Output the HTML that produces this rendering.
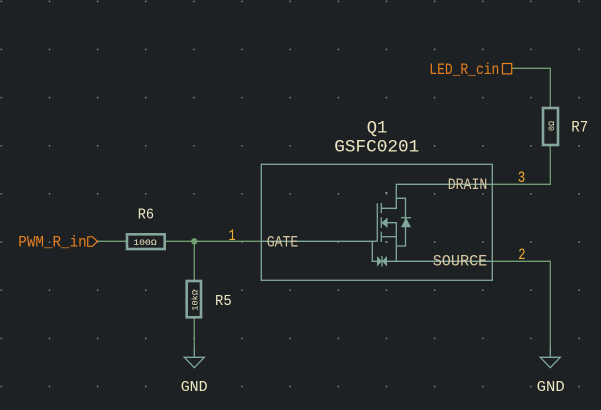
<!DOCTYPE html>
<html><head><meta charset="utf-8"><style>
html,body{margin:0;padding:0;background:#1e2124;}
svg{display:block;}
text{font-family:"Liberation Mono","DejaVu Sans Mono",monospace;}
</style></head><body>
<svg width="601" height="410" viewBox="0 0 601 410" xmlns="http://www.w3.org/2000/svg">
<defs>
<pattern id="g" patternUnits="userSpaceOnUse" x="0.6" y="0.6" width="48.15" height="48.15">
<rect x="0" y="0" width="1.4" height="1.4" fill="#8a8f93"/>
</pattern>
</defs>
<rect width="601" height="410" fill="#1e2124"/>
<rect width="601" height="410" fill="url(#g)"/>

<!-- wires -->
<g stroke="#6f9d6f" stroke-width="1.3" fill="none">
<polyline points="97.5,241.3 126,241.3"/>
<polyline points="165.7,241.3 261.3,241.3"/>
<polyline points="194.3,241.3 194.3,280"/>
<polyline points="194.3,318.3 194.3,346"/>
<polyline points="511.7,68.3 550.3,68.3 550.3,107"/>
<polyline points="550.3,146 550.3,184.3 492.3,184.3"/>
<polyline points="492.3,261.3 550.3,261.3 550.3,346"/>
</g>
<circle cx="194.3" cy="241.3" r="3.2" fill="#6f9d6f"/>

<!-- symbol lines -->
<g stroke="#7fa89a" stroke-width="1.3" fill="none">
<rect x="261.3" y="164.3" width="231" height="116"/>
<polyline points="261.3,241.3 377.3,241.3"/>
<polyline points="377.3,241.3 377.3,203.3"/>
<line x1="381.3" y1="203" x2="381.3" y2="213.3"/>
<line x1="381.3" y1="217.3" x2="381.3" y2="227.8"/>
<line x1="381.3" y1="231.7" x2="381.3" y2="242"/>
<polyline points="492.3,184.3 396.3,184.3 396.3,208.3 381.3,208.3"/>
<polyline points="396.3,198.3 405.5,198.3 405.5,246 396.3,246"/>
<polyline points="387.5,222.7 396.3,222.7 396.3,261.3"/>
<polyline points="381.3,236.7 396.3,236.7"/>
<polyline points="372.3,241.3 372.3,261.3 492.3,261.3"/>
<line x1="382" y1="256" x2="382" y2="266.5"/>
<line x1="401" y1="217.7" x2="411" y2="217.7"/>
<!-- GND symbols -->
<line x1="194.3" y1="346" x2="194.3" y2="357.3"/>
<polygon points="184.3,357.3 204.3,357.3 194.3,367.7"/>
<line x1="550.3" y1="346" x2="550.3" y2="357.3"/>
<polygon points="540.3,357.3 560.3,357.3 550.3,367.7"/>
</g>
<g fill="#7fa89a">
<polygon points="381.5,222.7 387.5,217.5 387.5,228"/>
<polygon points="401,227.3 411,227.3 406,217.7"/>
<polygon points="377,256 377,266.5 382,261.3"/>
<polygon points="387,256 387,266.5 382,261.3"/>
</g>
<g stroke="#b8ae90" stroke-width="1">
<line x1="385.3" y1="192.7" x2="387.5" y2="192.7"/>
<line x1="385.3" y1="241.8" x2="387.5" y2="241.8"/>
</g>

<!-- resistors -->
<g fill="none">
<rect x="127" y="234.3" width="37.7" height="14.7" stroke="#86a59b" stroke-width="2.6"/>
<rect x="186.7" y="281" width="14.3" height="36.3" stroke="#86a59b" stroke-width="2.6"/>
<rect x="543" y="108" width="15" height="37" stroke="#86a59b" stroke-width="2.6"/>
</g>

<!-- labels -->
<g stroke="#e8801e" stroke-width="1.2" fill="none">
<rect x="502.5" y="63.5" width="9.2" height="10.4"/>
<polygon points="87.7,236.8 92.5,236.8 97.3,241.3 92.5,246.3 87.7,246.3"/>
</g>
<g fill="#e8801e" font-size="15.5">
<text x="429.3" y="74" textLength="70" lengthAdjust="spacingAndGlyphs">LED_R_cin</text>
<text x="18.3" y="246.7" textLength="68.4" lengthAdjust="spacingAndGlyphs">PWM_R_in</text>
</g>

<!-- pin numbers -->
<g fill="#f0b030" font-size="15.5">
<text x="517.7" y="182" textLength="7.5" lengthAdjust="spacingAndGlyphs">3</text>
<text x="518.3" y="259" textLength="7.3" lengthAdjust="spacingAndGlyphs">2</text>
<text x="228.5" y="240" textLength="7.2" lengthAdjust="spacingAndGlyphs">1</text>
</g>

<!-- pin names -->
<g fill="#d8c9a2" font-size="15.5">
<text x="447.7" y="189" textLength="39.6" lengthAdjust="spacingAndGlyphs">DRAIN</text>
<text x="432.7" y="265.7" textLength="54.6" lengthAdjust="spacingAndGlyphs">SOURCE</text>
<text x="266.7" y="246.7" textLength="31.6" lengthAdjust="spacingAndGlyphs">GATE</text>
</g>

<!-- refs / values -->
<g fill="#ebe6c0">
<text x="366.7" y="132.3" font-size="17.5" textLength="20.6" lengthAdjust="spacingAndGlyphs">Q1</text>
<text x="334.3" y="151.3" font-size="17.5" textLength="85" lengthAdjust="spacingAndGlyphs">GSFC0201</text>
<text x="571.3" y="131.7" font-size="15.5" textLength="17" lengthAdjust="spacingAndGlyphs">R7</text>
<text x="137.7" y="218.3" font-size="15" textLength="16.3" lengthAdjust="spacingAndGlyphs">R6</text>
<text x="215" y="305" font-size="15" textLength="16.7" lengthAdjust="spacingAndGlyphs">R5</text>
<text x="180.7" y="391" font-size="15" textLength="27" lengthAdjust="spacingAndGlyphs">GND</text>
<text x="536.7" y="391" font-size="15" textLength="28" lengthAdjust="spacingAndGlyphs">GND</text>
<text x="133.3" y="244.8" font-size="8.6" textLength="23.4" lengthAdjust="spacingAndGlyphs">100Ω</text>
<text transform="translate(197.6,310.7) rotate(-90)" x="0" y="0" font-size="8.6" textLength="20.7" lengthAdjust="spacingAndGlyphs">10kΩ</text>
<text transform="translate(553.8,131) rotate(-90)" x="0" y="0" font-size="8.6" textLength="10" lengthAdjust="spacingAndGlyphs">0Ω</text>
</g>
</svg>
</body></html>
